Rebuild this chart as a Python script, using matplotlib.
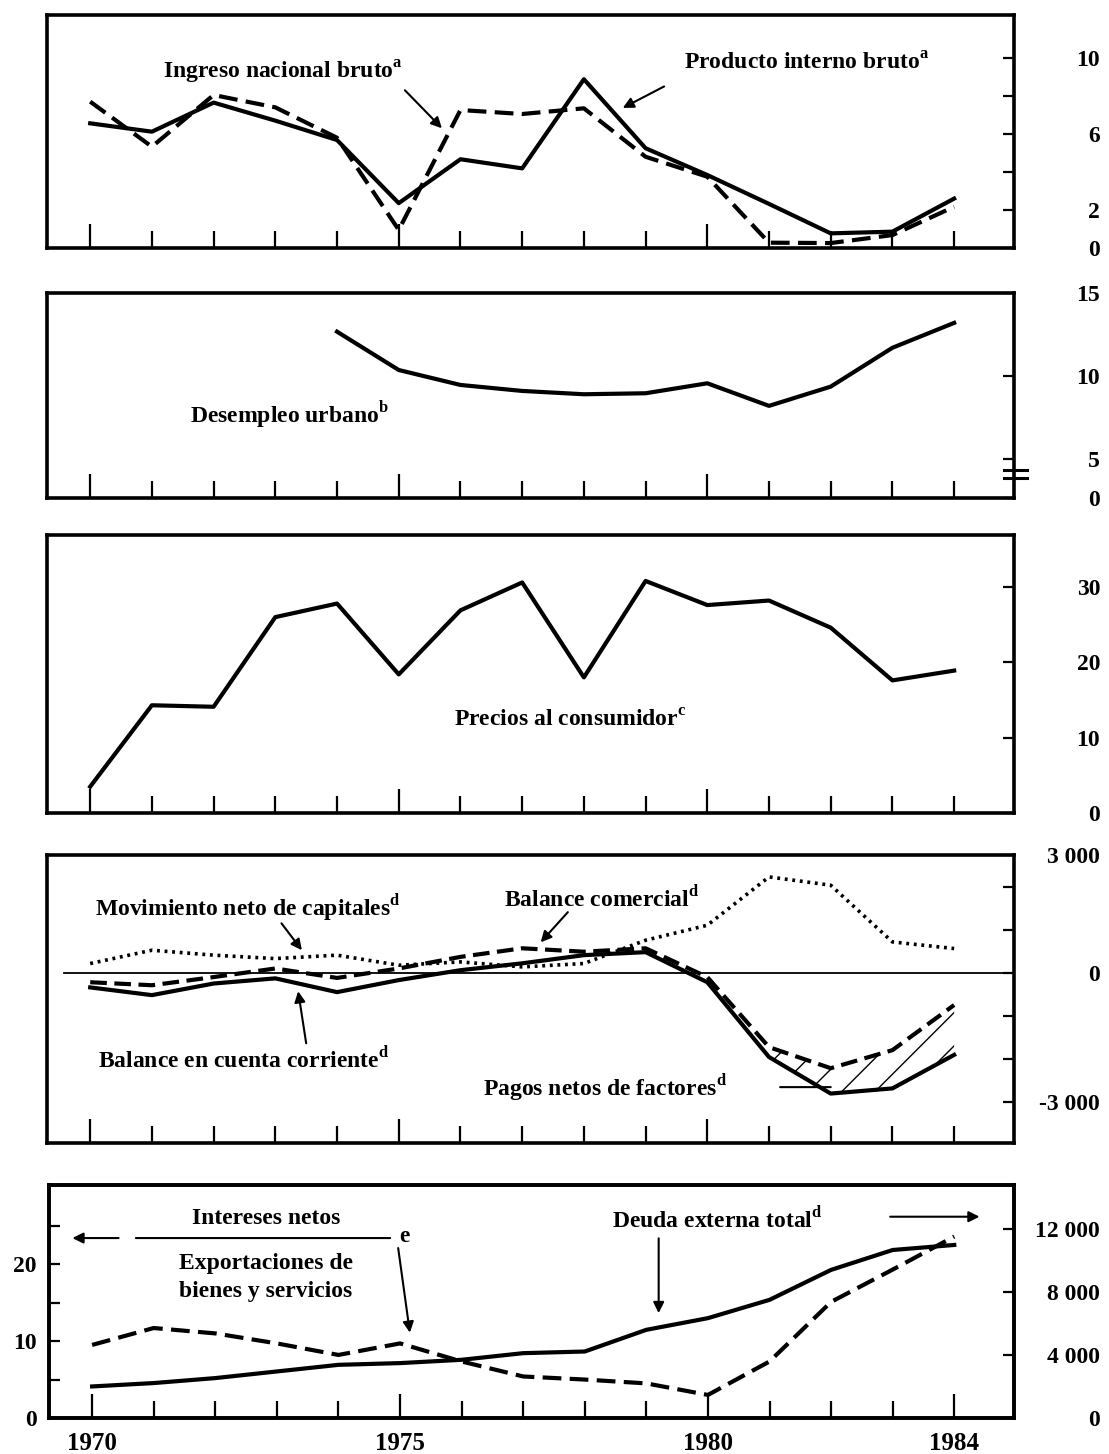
import matplotlib

matplotlib.use('Agg')
import matplotlib.pyplot as plt
import matplotlib.transforms as mtransforms

plt.rcParams['font.family'] = ['Liberation Serif', 'DejaVu Serif']
plt.rcParams['font.weight'] = 'bold'
plt.rcParams['mathtext.fontset'] = 'custom'
plt.rcParams['mathtext.rm'] = 'Liberation Serif:bold'
plt.rcParams['mathtext.bf'] = 'Liberation Serif:bold'
plt.rcParams['hatch.linewidth'] = 1.0

# --- datos ---
years = list(range(1970, 1985))

# tasas de crecimiento (%)
pib = [6.56, 6.12, 7.65, 6.7, 5.68, 2.36, 4.67, 4.19, 8.88, 5.25, 3.84, 2.32, 0.77, 0.86, 2.6]
ingreso = [7.7, 5.33, 8.05, 7.4, 5.8, 0.95, 7.26, 7.05, 7.35, 4.8, 3.75, 0.28, 0.26, 0.68, 2.17]

desempleo_years = list(range(1974, 1985))
desempleo = [12.67, 10.36, 9.46, 9.1, 8.9, 8.96, 9.56, 8.2, 9.36, 11.7, 13.2]

precios = [3.5, 14.3, 14.1, 26.0, 27.8, 18.4, 26.9, 30.6, 18.0, 30.8, 27.6, 28.2, 24.6, 17.6, 18.9]

# millones de dolares
mov_capitales = [225, 535, 420, 340, 420, 186, 263, 147, 225, 767, 1116, 2240, 2047, 728, 574]
balance_comercial = [-210, -280, -90, 110, -110, 110, 380, 580, 500, 580, -90, -1720, -2210, -1790, -740]
cuenta_corriente = [-330, -510, -240, -120, -440, -160, 70, 230, 420, 490, -210, -1950, -2800, -2680, -1900]

intereses_export = [9.5, 11.7, 11.0, 9.7, 8.2, 9.7, 7.35, 5.4, 5.0, 4.5, 3.0, 7.35, 15.1, 19.3, 23.6]
deuda_externa = [2000, 2215, 2530, 2950, 3370, 3480, 3690, 4110, 4215, 5590, 6330, 7490, 9390, 10650, 10970]

W, H = 1109, 1454
XLIM = (1969.3, 1984.97)
LW = 3.0
FS = 17


def box(x0, y0, x1, y1):
    return [x0 / W, 1 - y1 / H, (x1 - x0) / W, (y1 - y0) / H]


def marco(ax, ylim, yticks, ylabels, right=True):
    ax.set_xlim(*XLIM)
    ax.set_ylim(*ylim)
    for s in ax.spines.values():
        s.set_linewidth(2.6)
    ax.set_xticks([1970, 1975, 1980])
    ax.set_xticks([y for y in years if y not in (1970, 1975, 1980)], minor=True)
    ax.tick_params(axis='x', which='major', direction='in', length=17, width=1.6,
                   top=False, labelbottom=False)
    ax.tick_params(axis='x', which='minor', direction='in', length=12, width=1.6,
                   top=False)
    ax.set_yticks(yticks)
    ax.set_yticklabels(ylabels)
    if right:
        ax.tick_params(axis='y', direction='in', length=8, width=1.6, left=False,
                       labelleft=False, right=True, labelright=True, pad=62,
                       labelsize=FS)
        plt.setp(ax.get_yticklabels(), ha='right')


def flecha(ax, xy, xytext, head=True):
    ax.annotate('', xy=xy, xytext=xytext,
                arrowprops=dict(arrowstyle='-|>' if head else '-', lw=1.5,
                                color='black', mutation_scale=16,
                                shrinkA=0, shrinkB=0))


fig = plt.figure(figsize=(W / 100, H / 100), dpi=100)
fig.patch.set_facecolor('white')

# --- panel 1: ingreso y producto ---
ax1 = fig.add_axes(box(47, 15, 1014, 248))
marco(ax1, (0, 12.26), [0, 2, 4, 6, 8, 10], ['0', '2', '', '6', '', '10'])
ax1.plot(years, pib, color='black', lw=LW)
ax1.plot(years, ingreso, color='black', lw=LW, ls=(0, (4.5, 2)))
ax1.text(1971.18, 9.26, 'Ingreso nacional bruto$^{\\mathrm{a}}$', fontsize=FS,
         ha='left', va='center')
ax1.text(1979.62, 9.7, 'Producto interno bruto$^{\\mathrm{a}}$', fontsize=FS,
         ha='left', va='center')
flecha(ax1, (1975.7, 6.3), (1975.1, 8.3))
flecha(ax1, (1978.63, 7.37), (1979.3, 8.5))

# --- panel 2: desempleo ---
ax2 = fig.add_axes(box(47, 293, 1014, 498))
marco(ax2, (2.65, 15), [2.65, 5, 10, 15], ['0', '5', '10', '15'])
ax2.plot(desempleo_years, desempleo, color='black', lw=LW)
ax2.text(1971.61, 7.65, 'Desempleo urbano$^{\\mathrm{b}}$', fontsize=FS,
         ha='left', va='center')
# marca de corte del eje
brk = mtransforms.blended_transform_factory(ax2.transAxes, ax2.transData)
for yb in (4.34, 3.86):
    ax2.plot([0.99, 1.013], [yb, yb], color='black', lw=2.2, transform=brk,
             clip_on=False)

# --- panel 3: precios ---
ax3 = fig.add_axes(box(47, 535, 1014, 813))
marco(ax3, (0, 36.9), [0, 10, 20, 30], ['0', '10', '20', '30'])
ax3.plot(years, precios, color='black', lw=LW)
ax3.text(1975.9, 12.2, 'Precios al consumidor$^{\\mathrm{c}}$', fontsize=FS,
         ha='left', va='center')

# --- panel 4: balances ---
ax4 = fig.add_axes(box(47, 855, 1014, 1143))
marco(ax4, (-3950, 2750), [-3000, -2000, -1000, 0, 1000, 2000, 2750],
      ['-3 000', '', '', '0', '', '', '3 000'])
ax4.axhline(0, xmin=0.018, color='black', lw=1.3)
ax4.plot(years, mov_capitales, color='black', lw=2.6, ls=(0, (0.8, 1.3)))
ax4.plot(years, balance_comercial, color='black', lw=LW, ls=(0, (4, 1.8)))
ax4.plot(years, cuenta_corriente, color='black', lw=LW)
ax4.fill_between(years[11:], balance_comercial[11:], cuenta_corriente[11:],
                 facecolor='none', edgecolor='black', hatch='/', linewidth=0)
ax4.text(1970.07, 1510, 'Movimiento neto de capitales$^{\\mathrm{d}}$', fontsize=FS,
         ha='left', va='center')
ax4.text(1976.7, 1740, 'Balance comercial$^{\\mathrm{d}}$', fontsize=FS,
         ha='left', va='center')
ax4.text(1970.12, -2020, 'Balance en cuenta corriente$^{\\mathrm{d}}$', fontsize=FS,
         ha='left', va='center')
ax4.text(1976.36, -2670, 'Pagos netos de factores$^{\\mathrm{d}}$', fontsize=FS,
         ha='left', va='center')
flecha(ax4, (1973.43, 535), (1973.1, 1160))
flecha(ax4, (1977.3, 720), (1977.74, 1420))
flecha(ax4, (1973.37, -420), (1973.5, -1630))
flecha(ax4, (1982.0, -2650), (1981.18, -2650), head=False)

# --- panel 5: deuda e intereses ---
ax5 = fig.add_axes(box(49, 1185, 1014, 1418))
ax5.set_xlim(*XLIM)
ax5.set_ylim(0, 30.3)
for s in ax5.spines.values():
    s.set_linewidth(2.6)
ax5.set_xticks([1970, 1975, 1980, 1984])
ax5.set_xticklabels(['1970', '1975', '1980', '1984'])
ax5.set_xticks([y for y in years if y not in (1970, 1975, 1980, 1984)], minor=True)
ax5.tick_params(axis='x', which='major', direction='in', length=17, width=1.6,
                top=False, pad=10, labelsize=FS + 1)
ax5.tick_params(axis='x', which='minor', direction='in', length=12, width=1.6,
                top=False)
ax5.set_yticks([0, 5, 10, 15, 20, 25])
ax5.set_yticklabels(['0', '', '10', '', '20', ''])
ax5.tick_params(axis='y', direction='in', length=8, width=1.6, pad=9,
                labelsize=FS, right=False)
ax5.plot(years, intereses_export, color='black', lw=LW, ls=(0, (4.5, 2)))

ax5r = ax5.twinx()
ax5r.set_ylim(0, 14770)
ax5r.set_yticks([0, 4000, 8000, 12000])
ax5r.set_yticklabels(['0', '4 000', '8 000', '12 000'])
ax5r.tick_params(axis='y', direction='in', length=8, width=1.6, pad=62,
                 labelsize=FS)
plt.setp(ax5r.get_yticklabels(), ha='right')
for s in ax5r.spines.values():
    s.set_linewidth(2.6)
ax5r.plot(years, deuda_externa, color='black', lw=LW)

ax5.text(1972.83, 26.0, 'Intereses netos', fontsize=FS, ha='center', va='center')
ax5.text(1972.82, 20.1, 'Exportaciones de', fontsize=FS, ha='center', va='center')
ax5.text(1972.82, 16.4, 'bienes y servicios', fontsize=FS, ha='center', va='center')
ax5.text(1975.07, 23.6, 'e', fontsize=FS, ha='center', va='center')
flecha(ax5, (1969.68, 23.4), (1970.43, 23.4))
flecha(ax5, (1974.84, 23.4), (1970.71, 23.4), head=False)
flecha(ax5, (1975.16, 11.1), (1974.97, 22.1))
ax5r.text(1978.45, 12550, 'Deuda externa total$^{\\mathrm{d}}$', fontsize=FS,
          ha='left', va='center')
flecha(ax5r, (1979.2, 6650), (1979.2, 11390))
flecha(ax5r, (1984.41, 12760), (1982.96, 12760))

fig.savefig('out.png', dpi=100, facecolor='white')
